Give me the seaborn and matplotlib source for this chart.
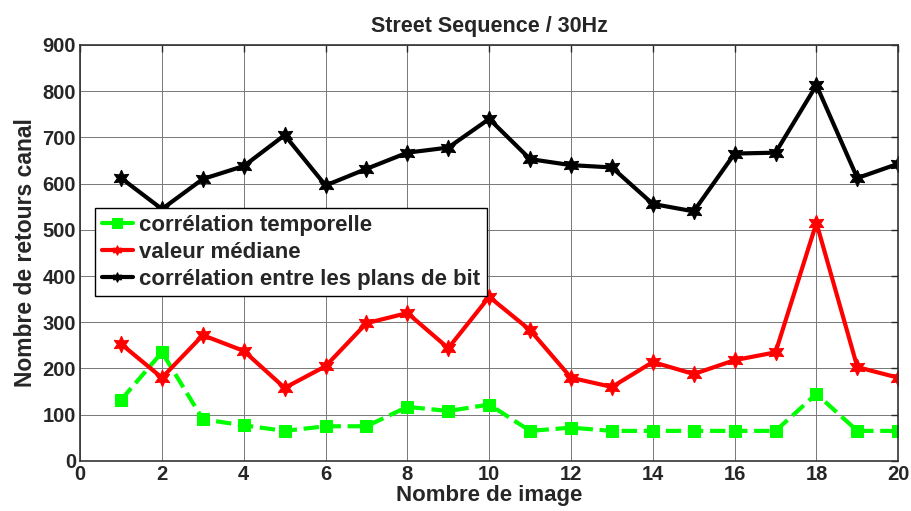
import numpy as np
import pandas as pd
import seaborn as sns
import matplotlib
matplotlib.use("Agg")
import matplotlib.pyplot as plt

images = list(range(1, 21))
temporelle = [132, 235, 90, 77, 65, 75, 75, 117, 108, 122, 65, 72, 65, 65, 65, 65, 65, 145, 65, 65]
mediane = [253, 180, 272, 238, 158, 205, 298, 320, 244, 355, 283, 180, 160, 214, 188, 218, 235, 515, 203, 180]
plans_bit = [612, 545, 610, 638, 705, 596, 632, 667, 678, 740, 653, 640, 635, 556, 540, 665, 667, 813, 612, 643]

labels = ["corrélation temporelle", "valeur médiane", "corrélation entre les plans de bit"]

sns.set_style("white")
plt.rcParams['font.family'] = ['Liberation Sans', 'DejaVu Sans']
plt.rcParams['font.weight'] = 'bold'

fig, ax = plt.subplots(figsize=(9.11, 5.11), dpi=100)
fig.subplots_adjust(left=0.088, right=0.986, top=0.912, bottom=0.098)

star6 = (6, 1, 0)
sns.lineplot(x=images, y=temporelle, ax=ax, color="#00ff00", lw=3, linestyle="--",
             marker="s", markersize=8, markeredgecolor="#00ff00", label=labels[0])
sns.lineplot(x=images, y=mediane, ax=ax, color="red", lw=3,
             marker=star6, markersize=12, markeredgecolor="red", label=labels[1])
sns.lineplot(x=images, y=plans_bit, ax=ax, color="black", lw=3,
             marker=star6, markersize=12, markeredgecolor="black", label=labels[2])

ax.set_xlim(0, 20)
ax.set_ylim(0, 900)
ax.set_xticks(range(0, 21, 2))
ax.set_yticks(range(0, 901, 100))
ax.grid(True, color="#777777", lw=0.7)
ax.tick_params(direction="in", top=True, right=True, length=5, labelsize=14.5, width=1, pad=3)
for s in ax.spines.values():
    s.set_color("#333333")
    s.set_linewidth(1.2)
for t in ax.get_xticklabels() + ax.get_yticklabels():
    t.set_fontweight("bold")

ax.set_title("Street Sequence / 30Hz", fontsize=15.5, fontweight="bold", pad=9)
ax.set_xlabel("Nombre de image", fontsize=16, fontweight="bold", labelpad=1)
ax.set_ylabel("Nombre de retours canal", fontsize=16.5, fontweight="bold", labelpad=4)

leg = ax.legend(loc="upper left", bbox_to_anchor=(0.018, 0.608), fontsize=16,
                frameon=True, fancybox=False, borderpad=0.3, labelspacing=0.27,
                handlelength=1.4, handletextpad=0.3, borderaxespad=0)
leg.get_frame().set_edgecolor("black")
leg.get_frame().set_linewidth(1)
leg.get_frame().set_alpha(1)
for t in leg.get_texts():
    t.set_fontweight("bold")
for h in leg.get_lines():
    h.set_markersize(7)
    h.set_linestyle("-")

fig.savefig("out.png", dpi=100)
